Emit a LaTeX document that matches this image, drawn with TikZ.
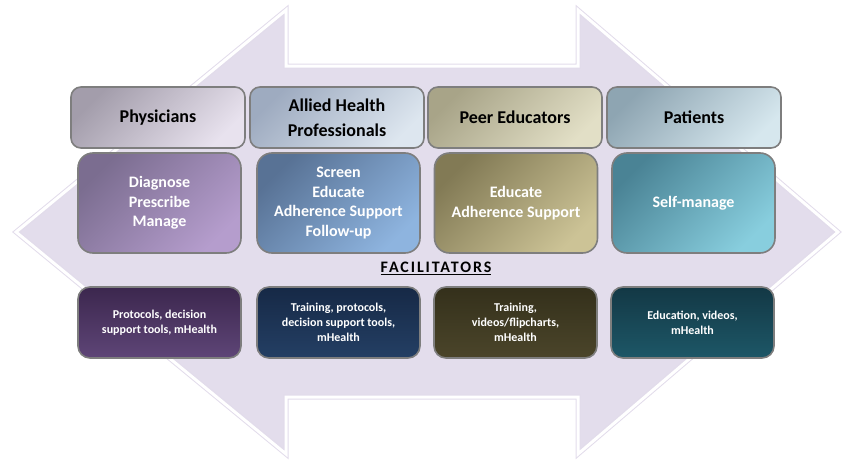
\documentclass[tikz,border=0pt]{standalone}
\usepackage{fontspec}
\setmainfont{Carlito}
\newfontfamily\spacedfont[LetterSpace=12]{Carlito}
\definecolor{lav}{HTML}{E3DDEC}
\definecolor{lavedge}{HTML}{E2DCEB}
\definecolor{boxline}{HTML}{7E7E7E}
\definecolor{hAa}{HTML}{A39DAB}\definecolor{hAb}{HTML}{E8E2EE}
\definecolor{hBa}{HTML}{9EABC0}\definecolor{hBb}{HTML}{DDE6EF}
\definecolor{hCa}{HTML}{A8A488}\definecolor{hCb}{HTML}{E2DFC6}
\definecolor{hDa}{HTML}{8EA5B2}\definecolor{hDb}{HTML}{D6E7EE}
\definecolor{rAa}{HTML}{7B6D90}\definecolor{rAb}{HTML}{B59DCD}
\definecolor{rBa}{HTML}{587295}\definecolor{rBb}{HTML}{8EB4DF}
\definecolor{rCa}{HTML}{827A55}\definecolor{rCb}{HTML}{CCC396}
\definecolor{rDa}{HTML}{4A8395}\definecolor{rDb}{HTML}{88CEDE}
\definecolor{fAa}{HTML}{3C274E}\definecolor{fAb}{HTML}{5E4577}
\definecolor{fBa}{HTML}{162946}\definecolor{fBb}{HTML}{243F64}
\definecolor{fCa}{HTML}{34301B}\definecolor{fCb}{HTML}{4B452A}
\definecolor{fDa}{HTML}{133845}\definecolor{fDb}{HTML}{1D5767}
\tikzset{
  hdr/.style={draw=boxline, line width=1.6pt, rounded corners=10pt,
    minimum width=174pt, minimum height=61pt, align=center,
    font=\bfseries\fontsize{18}{25}\selectfont, text=black},
  rolebox/.style={draw=boxline, line width=1.6pt, rounded corners=15pt,
    minimum width=163pt, minimum height=100pt, align=center,
    font=\bfseries\fontsize{16}{19.5}\selectfont, text=white},
  facbox/.style={draw=boxline, line width=1.6pt, rounded corners=12pt,
    minimum width=163pt, minimum height=71pt, align=center,
    font=\bfseries\fontsize{12}{15}\selectfont, text=white},
  diag/.style 2 args={left color=#1, right color=#2, shading angle=45},
}
\begin{document}
\begin{tikzpicture}[x=1pt,y=-1pt]
\useasboundingbox (0,0) rectangle (842,460);
% double-headed arrow background
\def\arrowpath{(16,232) -- (286,10) -- (286,66) -- (578,66) -- (578,10) -- (838,232)
  -- (578,454) -- (578,397) -- (286,397) -- (286,454) -- cycle}
\path[fill=lav, draw=lavedge, line width=5pt, line join=miter] \arrowpath;
\path[draw=white, line width=3pt, line join=miter] \arrowpath;
% header row
\node[hdr, diag={hAa}{hAb}] (h1) at (158,117.5) {Physicians};
\node[hdr, diag={hBa}{hBb}] (h2) at (337,117.5) {Allied Health\\Professionals};
\node[hdr, diag={hCa}{hCb}] (h3) at (515,117.5) {Peer Educators};
\node[hdr, diag={hDa}{hDb}] (h4) at (694,117.5) {Patients};
% role row
\node[rolebox, diag={rAa}{rAb}] (r1) at (159.5,203) {Diagnose\\Prescribe\\Manage};
\node[rolebox, diag={rBa}{rBb}] (r2) at (338.5,203) {Screen\\Educate\\Adherence Support\\Follow-up};
\node[rolebox, diag={rCa}{rCb}] (r3) at (516,203) {Educate\\Adherence Support};
\node[rolebox, diag={rDa}{rDb}] (r4) at (693.5,203) {Self-manage};
% facilitators label
\node[font=\bfseries\fontsize{16}{18}\selectfont, inner sep=1pt] (fac) at (436,268) {\spacedfont\underline{FACILITATORS}};
% facilitator row
\node[facbox, top color=fAa, bottom color=fAb] (f1) at (159.5,322.5) {Protocols, decision\\support tools, mHealth};
\node[facbox, top color=fBa, bottom color=fBb] (f2) at (338.5,322.5) {Training, protocols,\\decision support tools,\\mHealth};
\node[facbox, top color=fCa, bottom color=fCb] (f3) at (515.5,322.5) {Training,\\videos/flipcharts,\\mHealth};
\node[facbox, top color=fDa, bottom color=fDb] (f4) at (692.5,322.5) {Education, videos,\\mHealth};
\end{tikzpicture}
\end{document}
